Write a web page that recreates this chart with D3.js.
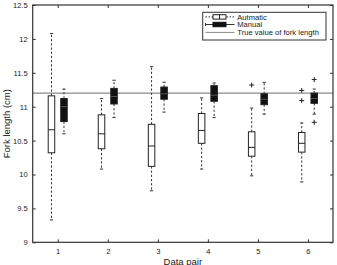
<!DOCTYPE html>
<html><head><meta charset="utf-8">
<script src="https://cdn.jsdelivr.net/npm/d3@7/dist/d3.min.js"></script>
<style>body{margin:0;background:#fff}svg{display:block}text{font-family:"Liberation Sans",Arial,sans-serif;fill:#222}</style>
</head><body><svg id="c" width="337" height="265"></svg>
<script>
const categories = [1, 2, 3, 4, 5, 6];
const yTicks = [9, 9.5, 10, 10.5, 11, 11.5, 12, 12.5];
const autoLow  = [9.33, 10.08, 9.76, 10.08, 9.98, 9.89];
const autoQ1   = [10.32, 10.38, 10.12, 10.46, 10.27, 10.33];
const autoMed  = [10.66, 10.60, 10.42, 10.65, 10.40, 10.46];
const autoQ3   = [11.16, 10.88, 10.74, 10.90, 10.63, 10.62];
const autoHigh = [12.08, 11.12, 11.59, 11.13, 10.98, 10.76];
const autoOut  = [[], [], [], [], [11.32], [11.24, 11.09]];
const manLow  = [10.60, 10.84, 10.92, 10.84, 10.89, 10.89];
const manQ1   = [10.78, 11.04, 11.11, 11.08, 11.03, 11.05];
const manMed  = [11.00, 11.15, 11.19, 11.17, 11.11, 11.12];
const manQ3   = [11.12, 11.27, 11.29, 11.31, 11.19, 11.20];
const manHigh = [11.26, 11.39, 11.36, 11.35, 11.36, 11.26];
const manOut  = [[], [], [], [], [], [11.40, 10.77]];
const trueValue = 11.2;
const seriesNames = ["Autmatic", "Manual", "True value of fork length"];

const svg = d3.select("#c");
const L = 32.7, R = 333, T = 5, B = 242.3;
const x = d3.scaleLinear().domain([0.5, 6.5]).range([L, R]);
const y = d3.scaleLinear().domain([9, 12.5]).range([B, T]);
const off = 0.125, bw = 0.13;
const px = v => x(v) - x(0);

// true value line
svg.append("line").attr("x1", L).attr("x2", R).attr("y1", y(trueValue)).attr("y2", y(trueValue))
  .attr("stroke", "#8a8a8a").attr("stroke-width", 1.2);

function drawSeries(shift, lo, q1, med, q3, hi, outs, fill, medColor) {
  const g = svg.append("g");
  categories.forEach((c, i) => {
    const cx = x(c + shift), w = px(bw), cw = 1.6;
    [[q3[i], hi[i]], [q1[i], lo[i]]].forEach(([a, b]) => {
      g.append("line").attr("x1", cx).attr("x2", cx).attr("y1", y(a)).attr("y2", y(b))
        .attr("stroke", "#333").attr("stroke-width", 1).attr("stroke-dasharray", "2.2,2");
      g.append("line").attr("x1", cx - cw).attr("x2", cx + cw).attr("y1", y(b)).attr("y2", y(b))
        .attr("stroke", "#333").attr("stroke-width", 1);
    });
    g.append("rect").attr("x", cx - w / 2).attr("width", w)
      .attr("y", y(q3[i])).attr("height", y(q1[i]) - y(q3[i]))
      .attr("fill", fill).attr("stroke", "#222").attr("stroke-width", 1);
    g.append("line").attr("x1", cx - w / 2).attr("x2", cx + w / 2).attr("y1", y(med[i])).attr("y2", y(med[i]))
      .attr("stroke", medColor).attr("stroke-width", 1);
    outs[i].forEach(v => {
      g.append("path").attr("d", `M${cx - 2.5},${y(v)}h5M${cx},${y(v) - 2.5}v5`)
        .attr("stroke", "#222").attr("stroke-width", 1);
    });
  });
}
drawSeries(-off, autoLow, autoQ1, autoMed, autoQ3, autoHigh, autoOut, "#fff", "#222");
drawSeries(off, manLow, manQ1, manMed, manQ3, manHigh, manOut, "#111", "#555");

const tk = 3;
const axL = svg.append("g").attr("transform", `translate(${L},0)`)
  .call(d3.axisLeft(y).tickValues(yTicks).tickSizeInner(-tk).tickSizeOuter(0).tickPadding(5).tickFormat(d => String(d)));
const axR = svg.append("g").attr("transform", `translate(${R},0)`)
  .call(d3.axisRight(y).tickValues(yTicks).tickSizeInner(-tk).tickSizeOuter(0).tickFormat(""));
const axB = svg.append("g").attr("transform", `translate(0,${B})`)
  .call(d3.axisBottom(x).tickValues(categories).tickSizeInner(-tk).tickSizeOuter(0).tickPadding(6).tickFormat(d3.format("d")));
const axT = svg.append("g").attr("transform", `translate(0,${T})`)
  .call(d3.axisTop(x).tickValues(categories).tickSizeInner(-tk).tickSizeOuter(0).tickFormat(""));
[axL, axR, axB, axT].forEach(a => {
  a.select(".domain").remove();
  a.selectAll(".tick line").attr("stroke", "#333");
  a.selectAll("text").attr("font-size", 7.6).style("font-family", "Liberation Sans, Arial, sans-serif").attr("fill", "#222");
});
svg.append("rect").attr("x", L).attr("y", T).attr("width", R - L).attr("height", B - T)
  .attr("fill", "none").attr("stroke", "#333").attr("stroke-width", 1.2);

svg.append("text").attr("transform", `translate(10,${(T + B) / 2}) rotate(-90)`)
  .attr("text-anchor", "middle").attr("font-size", 9.5).text("Fork length (cm)");
svg.append("text").attr("x", (L + R) / 2).attr("y", 264.5).attr("text-anchor", "middle")
  .attr("font-size", 9.5).text("Data pair");

const lg = svg.append("g");
lg.append("rect").attr("x", 202.7).attr("y", 12.3).attr("width", 123.3).attr("height", 27.7)
  .attr("fill", "#fff").attr("stroke", "#333").attr("stroke-width", 1);
const rows = [16.9, 24.5, 32.4];
rows.forEach((ry, i) => {
  if (i === 0) {
    lg.append("line").attr("x1", 205.5).attr("x2", 234.5).attr("y1", ry).attr("y2", ry)
      .attr("stroke", "#333").attr("stroke-dasharray", "1.5,1.5");
    lg.append("rect").attr("x", 213).attr("y", ry - 2.2).attr("width", 13).attr("height", 4.4)
      .attr("fill", "#fff").attr("stroke", "#222");
    lg.append("line").attr("x1", 219.5).attr("x2", 219.5).attr("y1", ry - 2.2).attr("y2", ry + 2.2).attr("stroke", "#222");
  } else if (i === 1) {
    lg.append("line").attr("x1", 205.5).attr("x2", 234.5).attr("y1", ry).attr("y2", ry).attr("stroke", "#333");
    lg.append("line").attr("x1", 205.5).attr("x2", 205.5).attr("y1", ry - 1.5).attr("y2", ry + 1.5).attr("stroke", "#333");
    lg.append("rect").attr("x", 213).attr("y", ry - 2.2).attr("width", 13).attr("height", 4.4)
      .attr("fill", "#111").attr("stroke", "#111");
  } else {
    lg.append("line").attr("x1", 205.5).attr("x2", 234.5).attr("y1", ry).attr("y2", ry).attr("stroke", "#8a8a8a");
  }
  lg.append("text").attr("x", 237.3).attr("y", ry + 2.6).attr("font-size", 7.6).text(seriesNames[i]);
});
</script></body></html>
